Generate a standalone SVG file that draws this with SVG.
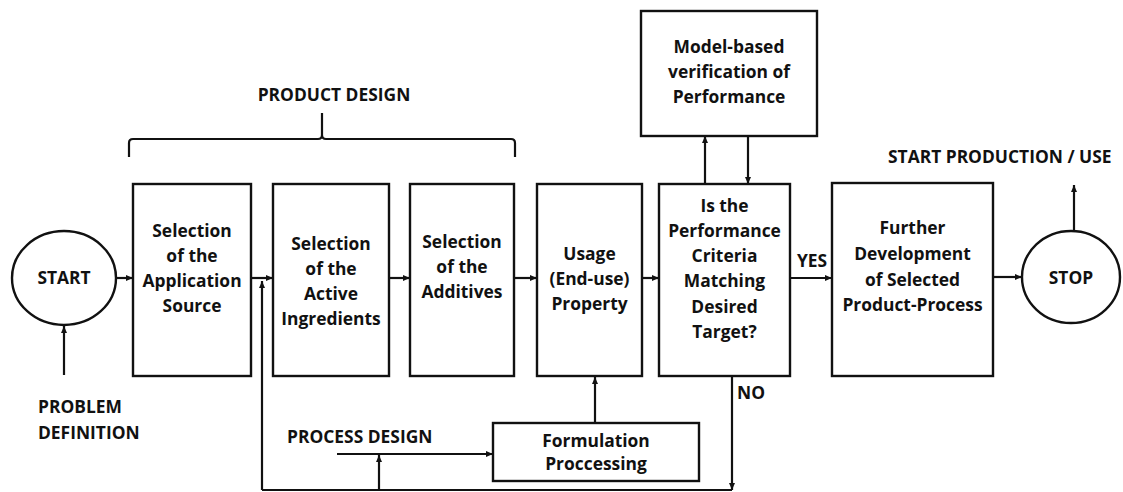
<svg xmlns="http://www.w3.org/2000/svg" width="1123" height="492" viewBox="0 0 1123 492">
<defs>
<style>
.box{fill:#fff;stroke:#111;stroke-width:2.4}
.ln{fill:none;stroke:#111;stroke-width:2.2}
.arr{marker-end:url(#ah)}
text{font-family:"Open Sans","Liberation Sans",sans-serif;font-weight:bold;font-size:17.4px;fill:#111}
.c{text-anchor:middle}
</style>
<marker id="ah" markerUnits="userSpaceOnUse" markerWidth="8" markerHeight="8" refX="7" refY="3" orient="auto">
<path d="M0,0 L7,3 L0,6 Z" fill="#111"/>
</marker>
</defs>
<rect width="1123" height="492" fill="#fff"/>

<g id="connectors">
<line class="ln arr" x1="64" y1="375" x2="64" y2="326"/>
<line class="ln arr" x1="117" y1="278" x2="133" y2="278"/>
<line class="ln arr" x1="251" y1="278" x2="273" y2="278"/>
<line class="ln arr" x1="389" y1="278" x2="410" y2="278"/>
<line class="ln arr" x1="514" y1="278" x2="537" y2="278"/>
<line class="ln arr" x1="642" y1="278" x2="659" y2="278"/>
<line class="ln arr" x1="790" y1="278" x2="832" y2="278"/>
<line class="ln arr" x1="993" y1="277" x2="1022" y2="277"/>
<line class="ln arr" x1="1074" y1="231" x2="1074" y2="185"/>
<line class="ln arr" x1="705" y1="184" x2="705" y2="136"/>
<line class="ln arr" x1="748" y1="136" x2="748" y2="184"/>
<line class="ln arr" x1="732" y1="376" x2="732" y2="490"/>
<polyline class="ln" points="732,490 262,490"/>
<line class="ln arr" x1="262" y1="490" x2="262" y2="281"/>
<line class="ln arr" x1="379" y1="490" x2="379" y2="455"/>
<line class="ln arr" x1="337" y1="454" x2="493" y2="454"/>
<line class="ln arr" x1="595" y1="423" x2="595" y2="377"/>
<path class="ln" d="M129,157 V143 Q129,139 133,139 H318 Q322,139 322,135 V113 M322,135 Q322,139 326,139 H511 Q515,139 515,143 V157"/>
</g>

<g id="start">
<ellipse class="box" cx="64" cy="278" rx="52" ry="47"/>
<text class="c" x="64" y="284">START</text>
</g>
<g id="problem-label">
<text x="38" y="413">PROBLEM</text>
<text x="38" y="439">DEFINITION</text>
</g>
<g id="product-design-label">
<text class="c" x="334" y="101">PRODUCT DESIGN</text>
</g>
<g id="box-application">
<rect class="box" x="133" y="184" width="118" height="192"/>
<text class="c" x="192" y="237">Selection</text>
<text class="c" x="192" y="262">of the</text>
<text class="c" x="192" y="287">Application</text>
<text class="c" x="192" y="312">Source</text>
</g>
<g id="box-active">
<rect class="box" x="273" y="184" width="116" height="192"/>
<text class="c" x="331" y="250">Selection</text>
<text class="c" x="331" y="275">of the</text>
<text class="c" x="331" y="300">Active</text>
<text class="c" x="331" y="325">Ingredients</text>
</g>
<g id="box-additives">
<rect class="box" x="410" y="184" width="104" height="192"/>
<text class="c" x="462" y="248">Selection</text>
<text class="c" x="462" y="273">of the</text>
<text class="c" x="462" y="298">Additives</text>
</g>
<g id="box-usage">
<rect class="box" x="537" y="184" width="105" height="192"/>
<text class="c" x="589.5" y="260">Usage</text>
<text class="c" x="589.5" y="285">(End-use)</text>
<text class="c" x="589.5" y="310">Property</text>
</g>
<g id="box-criteria">
<rect class="box" x="659" y="184" width="131" height="192"/>
<text class="c" x="724.5" y="212">Is the</text>
<text class="c" x="724.5" y="237">Performance</text>
<text class="c" x="724.5" y="262">Criteria</text>
<text class="c" x="724.5" y="287">Matching</text>
<text class="c" x="724.5" y="313">Desired</text>
<text class="c" x="724.5" y="338">Target?</text>
</g>
<g id="box-model">
<rect class="box" x="641" y="11" width="176" height="125"/>
<text class="c" x="729" y="53">Model-based</text>
<text class="c" x="729" y="78">verification of</text>
<text class="c" x="729" y="103">Performance</text>
</g>
<g id="box-further">
<rect class="box" x="832" y="183" width="161" height="193"/>
<text class="c" x="912.5" y="234">Further</text>
<text class="c" x="912.5" y="260">Development</text>
<text class="c" x="912.5" y="286">of Selected</text>
<text class="c" x="912.5" y="311">Product-Process</text>
</g>
<g id="stop">
<ellipse class="box" cx="1071" cy="277" rx="49" ry="46"/>
<text class="c" x="1071" y="284">STOP</text>
</g>
<g id="labels">
<text x="797" y="267">YES</text>
<text x="737" y="399">NO</text>
<text x="888" y="163">START PRODUCTION / USE</text>
<text x="287" y="443">PROCESS DESIGN</text>
</g>
<g id="box-formulation">
<rect class="box" x="493" y="423" width="206" height="58"/>
<text class="c" x="596" y="447">Formulation</text>
<text class="c" x="596" y="470">Proccessing</text>
</g>
</svg>
